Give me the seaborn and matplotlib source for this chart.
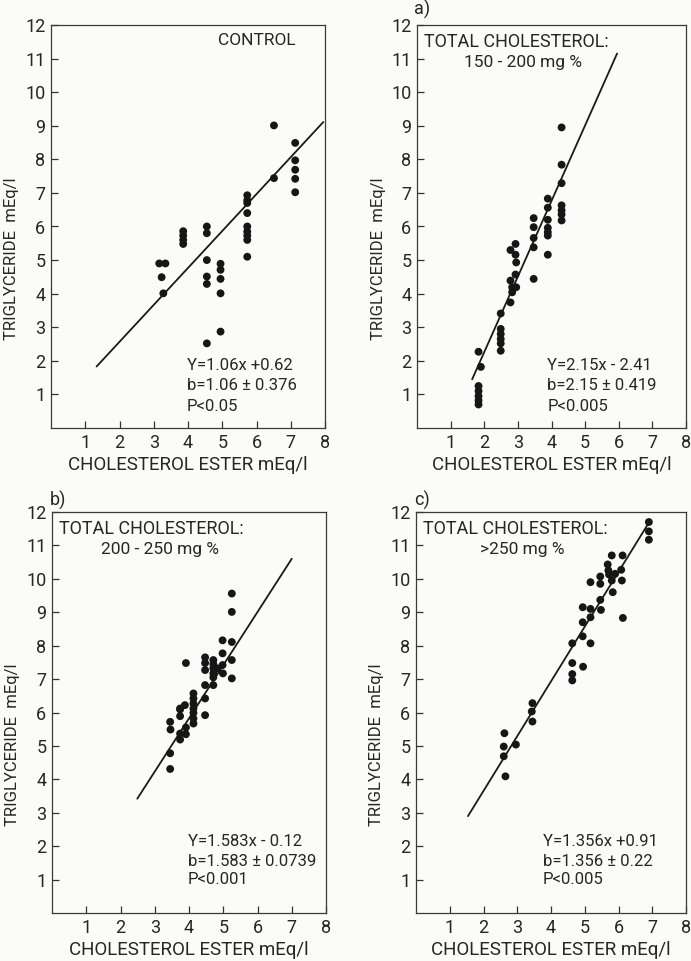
import matplotlib
matplotlib.use("Agg")
import matplotlib.pyplot as plt
from matplotlib import font_manager as fm
import pandas as pd
import seaborn as sns

# control
ctrl_x = [3.16, 3.34, 3.23, 3.28, 3.86, 3.86, 3.86, 3.86, 4.55, 4.55, 4.55, 4.55, 4.55, 4.55,
          4.95, 4.95, 4.95, 4.95, 4.95, 5.73, 5.73, 5.73, 5.73, 5.73, 5.73, 5.73, 5.73, 5.73,
          6.51, 6.51, 7.13, 7.13, 7.13, 7.13, 7.13]
ctrl_y = [4.9, 4.9, 4.49, 4.01, 5.86, 5.73, 5.6, 5.48, 6.0, 5.8, 5.0, 4.51, 4.29, 2.52,
          4.89, 4.71, 4.44, 4.01, 2.87, 6.93, 6.78, 6.7, 6.4, 6.0, 5.85, 5.73, 5.6, 5.1,
          9.01, 7.44, 8.49, 7.97, 7.69, 7.42, 7.02]
ctrl_line_x = [1.33, 7.95]
ctrl_line_y = [1.83, 9.11]

# a) 150-200 mg %
a_x = [1.83, 1.9, 1.83, 1.83, 1.83, 1.83, 1.83,
       2.49, 2.49, 2.49, 2.49, 2.49, 2.49,
       2.78, 2.93, 2.93, 2.95, 2.93, 2.78, 2.83, 2.83, 2.95, 2.78,
       3.47, 3.47, 3.47, 3.47, 3.47,
       3.89, 3.89, 3.89, 3.89, 3.89, 3.89, 3.89,
       4.3, 4.3, 4.3, 4.3, 4.3, 4.3, 4.3]
a_y = [2.27, 1.82, 1.25, 1.1, 0.95, 0.82, 0.7,
       3.41, 2.95, 2.8, 2.65, 2.52, 2.3,
       5.3, 5.48, 5.16, 4.93, 4.57, 4.39, 4.19, 4.04, 4.19, 3.74,
       6.25, 5.98, 5.66, 5.38, 4.44,
       6.83, 6.56, 6.2, 5.96, 5.83, 5.73, 5.16,
       8.95, 7.84, 7.29, 6.63, 6.48, 6.36, 6.18]
a_line_x = [1.64, 5.95]
a_line_y = [1.45, 11.15]

# b) 200-250 mg %
b_x = [3.45, 3.46, 3.45, 3.45, 3.74, 3.74, 3.74, 3.74, 3.74, 3.88, 3.91, 3.91, 3.91,
       4.13, 4.13, 4.13, 4.13, 4.13, 4.13, 4.13,
       4.47, 4.47, 4.47, 4.47, 4.47, 4.47,
       4.71, 4.71, 4.71, 4.71, 4.71, 4.71, 4.83,
       4.98, 4.98, 4.98, 4.99, 5.25, 5.25, 5.25, 5.25, 5.25]
b_y = [5.72, 5.49, 4.78, 4.31, 6.12, 5.89, 6.09, 5.37, 5.19, 6.22, 7.48, 5.55, 5.35,
       6.57, 6.42, 6.27, 6.12, 5.99, 5.82, 5.67,
       7.65, 7.48, 7.27, 6.82, 6.42, 5.92,
       7.57, 7.45, 7.32, 7.17, 7.05, 6.82, 7.32,
       8.16, 7.77, 7.42, 7.17, 9.56, 9.01, 8.11, 7.57, 7.02]
b_line_x = [2.49, 7.0]
b_line_y = [3.42, 10.6]

# c) >250 mg %
c_x = [2.62, 2.6, 2.6, 2.65, 2.96, 3.45, 3.43, 3.45,
       4.63, 4.63, 4.63, 4.63, 4.94, 4.94, 4.94, 4.95,
       5.17, 5.17, 5.17, 5.17, 5.46, 5.46, 5.46, 5.48,
       5.68, 5.7, 5.72, 5.8, 5.8, 5.83, 5.9,
       6.12, 6.08, 6.1, 6.13, 6.9, 6.9, 6.9]
c_y = [5.38, 4.98, 4.69, 4.09, 5.04, 6.28, 6.03, 5.73,
       8.07, 7.48, 7.15, 6.96, 9.15, 8.7, 8.28, 7.37,
       9.9, 9.1, 8.85, 8.07, 10.07, 9.85, 9.37, 9.07,
       10.43, 10.25, 10.13, 9.95, 10.7, 9.6, 10.15,
       10.7, 10.27, 9.95, 8.83, 11.7, 11.42, 11.17]
c_line_x = [1.54, 6.88]
c_line_y = [2.9, 11.65]

x_ticks = [1, 2, 3, 4, 5, 6, 7, 8]
y_ticks = [1, 2, 3, 4, 5, 6, 7, 8, 9, 10, 11, 12]

sns.set_style("ticks")
names = {f.name for f in fm.fontManager.ttflist}
font = "Liberation Sans Narrow" if "Liberation Sans Narrow" in names else "Roboto"
plt.rcParams["font.family"] = [font, "DejaVu Sans"]
plt.rcParams["axes.linewidth"] = 0.9
plt.rcParams["xtick.direction"] = "in"
plt.rcParams["ytick.direction"] = "in"

fig = plt.figure(figsize=(6.91, 9.61), dpi=100)
fig.patch.set_facecolor("#fbfbf9")

panels = [
    ([51 / 691, 1 - 428 / 961, 274 / 691, 403 / 961], ctrl_x, ctrl_y, ctrl_line_x, ctrl_line_y,
     None, ["Y=1.06x +0.62", "b=1.06 ± 0.376", "P<0.05"], 3.97, [1.85, 1.26, 0.64]),
    ([417 / 691, 1 - 428 / 961, 269 / 691, 403 / 961], a_x, a_y, a_line_x, a_line_y,
     "150 - 200 mg %", ["Y=2.15x - 2.41", "b=2.15 ± 0.419", "P<0.005"], 3.87, [1.85, 1.26, 0.64]),
    ([52 / 691, 1 - 913 / 961, 274 / 691, 401 / 961], b_x, b_y, b_line_x, b_line_y,
     "200 - 250 mg %", ["Y=1.583x - 0.12", "b=1.583 ± 0.0739", "P<0.001"], 3.97, [2.14, 1.54, 0.99]),
    ([416 / 691, 1 - 913 / 961, 270 / 691, 401 / 961], c_x, c_y, c_line_x, c_line_y,
     ">250 mg %", ["Y=1.356x +0.91", "b=1.356 ± 0.22", "P<0.005"], 3.76, [2.14, 1.54, 0.99]),
]

for rect, xs, ys, lx, ly, sub, eq, eqx, eqy in panels:
    ax = fig.add_axes(rect)
    ax.set_facecolor("#fbfbf9")
    pts = pd.DataFrame({"x": xs, "y": ys})
    line = pd.DataFrame({"x": lx, "y": ly})
    sns.scatterplot(data=pts, x="x", y="y", ax=ax, color="#161616", s=32,
                    edgecolor="none", zorder=3)
    sns.lineplot(data=line, x="x", y="y", ax=ax, color="#1a1a1a", lw=1.3, zorder=2)
    ax.set_xlim(0, 8)
    ax.set_ylim(0, 12)
    ax.set_xticks(x_ticks)
    ax.set_yticks(y_ticks)
    ax.set_xticklabels([str(t) for t in x_ticks])
    ax.set_yticklabels([str(t) for t in y_ticks])
    ax.tick_params(length=5, width=0.9, labelsize=13, color="#333333", pad=4)
    for s in ax.spines.values():
        s.set_visible(True)
        s.set_color("#3a3a3a")
    ax.set_xlabel("CHOLESTEROL ESTER mEq/l", fontsize=13.5, labelpad=3)
    ax.set_ylabel("TRIGLYCERIDE  mEq/l", fontsize=12)
    ax.yaxis.set_label_coords(-0.117, 0.42)

    if sub is None:
        ax.text(6.0, 11.55, "CONTROL", ha="center", va="center", fontsize=12.5)
    else:
        ax.text(0.2, 11.5, "TOTAL CHOLESTEROL:", ha="left", va="center", fontsize=13)
        ax.text(3.15, 10.88, sub, ha="center", va="center", fontsize=12.5)
    for t, yy in zip(eq, eqy):
        ax.text(eqx, yy, t, ha="left", va="center", fontsize=12)

fig.text(422 / 691, 1 - 9 / 961, "a)", ha="center", va="center", fontsize=13)
fig.text(58 / 691, 1 - 500 / 961, "b)", ha="center", va="center", fontsize=13)
fig.text(422 / 691, 1 - 500 / 961, "c)", ha="center", va="center", fontsize=13)

fig.savefig("out.png", dpi=100, facecolor=fig.get_facecolor())
